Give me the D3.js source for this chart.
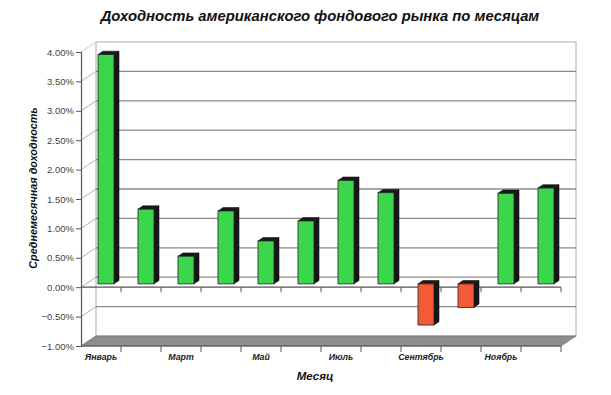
<!DOCTYPE html>
<html>
<head>
<meta charset="UTF-8">
<title>Доходность по месяцам</title>
<script src="https://d3js.org/d3.v7.min.js"></script>
<style>
  body { margin: 0; background: #fff; }
  text { font-family: "Liberation Sans", Arial, sans-serif; }
  .title { font-size: 14.8px; font-weight: bold; font-style: italic; fill: #111; }
  .axtitle { font-size: 11.5px; font-weight: bold; font-style: italic; fill: #111; }
  .ytitle { font-size: 10.8px; font-weight: bold; font-style: italic; fill: #111; }
  .month { font-size: 8.8px; font-weight: bold; font-style: italic; fill: #222; }
  .ytick { font-size: 9.5px; fill: #444; }
</style>
</head>
<body>
<div id="chart"></div>
<script>
// data
var months = ["Январь", "Февраль", "Март", "Апрель", "Май", "Июнь",
              "Июль", "Август", "Сентябрь", "Октябрь", "Ноябрь", "Декабрь"];
var returns = [3.90, 1.27, 0.47, 1.24, 0.73, 1.07, 1.76, 1.55, -0.70, -0.40, 1.54, 1.63];
var shownMonths = ["Январь", "Март", "Май", "Июль", "Сентябрь", "Ноябрь"];
var yTicks = [-1, -0.5, 0, 0.5, 1, 1.5, 2, 2.5, 3, 3.5, 4];

var W = 611, H = 395;
var DX = 15, DY = -10;   // depth of the 3d box

var svg = d3.select("#chart").append("svg")
    .attr("width", W).attr("height", H);

var x = d3.scaleBand().domain(months).range([81, 561]);
var y = d3.scaleLinear().domain([-1, 4]).range([346, 52]);
var fmt = d3.format(".2f");

var x0 = x.range()[0], x1 = x.range()[1];
var yTop = y(4), yBot = y(-1);

// back wall
svg.append("rect")
    .attr("x", x0 + DX).attr("y", yTop + DY)
    .attr("width", x1 - x0).attr("height", yBot - yTop)
    .attr("fill", "#fff").attr("stroke", "#c8c8c8").attr("stroke-width", 1.5);

// grid on back wall + left wall
var grid = svg.append("g");
grid.selectAll("line.back")
    .data(yTicks.filter(function(d) { return d > -1 && d < 4; }))
    .enter().append("line")
    .attr("x1", x0 + DX).attr("x2", x1 + DX)
    .attr("y1", function(d) { return y(d) + DY; })
    .attr("y2", function(d) { return y(d) + DY; })
    .attr("stroke", "#8a8a8a").attr("stroke-width", 1.3);
grid.selectAll("line.side")
    .data(yTicks)
    .enter().append("line")
    .attr("x1", x0).attr("x2", x0 + DX)
    .attr("y1", function(d) { return y(d); })
    .attr("y2", function(d) { return y(d) + DY; })
    .attr("stroke", function(d) { return d == 4 ? "#c8c8c8" : "#b0b0b0"; })
    .attr("stroke-width", 1);

// floor
svg.append("path")
    .attr("d", "M" + x0 + "," + yBot + "L" + x1 + "," + yBot +
               "L" + (x1 + DX) + "," + (yBot + DY) + "L" + (x0 + DX) + "," + (yBot + DY) + "Z")
    .attr("fill", "#8c8c8c").attr("stroke", "#777").attr("stroke-width", 0.8);

// zero line with ticks
svg.append("line")
    .attr("x1", x0).attr("x2", x1)
    .attr("y1", y(0)).attr("y2", y(0))
    .attr("stroke", "#555").attr("stroke-width", 1.2);
svg.append("g").selectAll("line")
    .data(months.slice(1).concat([null]))
    .enter().append("line")
    .attr("x1", function(d) { return d ? x(d) : x1; })
    .attr("x2", function(d) { return d ? x(d) : x1; })
    .attr("y1", y(0)).attr("y2", y(0) + 5)
    .attr("stroke", "#555").attr("stroke-width", 1);

// bars
var bw = x.bandwidth() * 0.4, bdx = DX / 3, bdy = DY / 3;
var bars = svg.append("g").selectAll("g")
    .data(months)
    .enter().append("g");

function frontL(d) { return x(d) + x.bandwidth() / 2 - bw / 2 + bdx; }
function topY(d, i) { return Math.min(y(returns[i]), y(0)) + bdy; }
function botY(d, i) { return Math.max(y(returns[i]), y(0)) + bdy; }

bars.append("path")   // side
    .attr("d", function(d, i) {
        var l = frontL(d) + bw, t = topY(d, i), b = botY(d, i);
        return "M" + l + "," + t + "L" + (l + bdx) + "," + (t + bdy) +
               "L" + (l + bdx) + "," + (b + bdy) + "L" + l + "," + b + "Z";
    })
    .attr("fill", "#161616").attr("stroke", "#111").attr("stroke-width", 0.6);
bars.append("path")   // top
    .attr("d", function(d, i) {
        var l = frontL(d), t = topY(d, i);
        return "M" + l + "," + t + "L" + (l + bw) + "," + t +
               "L" + (l + bw + bdx) + "," + (t + bdy) + "L" + (l + bdx) + "," + (t + bdy) + "Z";
    })
    .attr("fill", function(d, i) { return returns[i] < 0 ? "#2a1712" : "#1a1a1a"; })
    .attr("stroke", "#111").attr("stroke-width", 0.6);
bars.append("rect")   // front
    .attr("x", frontL)
    .attr("y", topY)
    .attr("width", bw)
    .attr("height", function(d, i) { return botY(d, i) - topY(d, i); })
    .attr("fill", function(d, i) { return returns[i] < 0 ? "#f25a38" : "#3bd64c"; })
    .attr("stroke", "#222").attr("stroke-width", 0.8);

// y axis
var yAxis = d3.axisLeft(y).tickValues(yTicks).tickSize(5).tickPadding(2)
    .tickFormat(function(d) { return fmt(d) + "%"; });
var gy = svg.append("g").attr("transform", "translate(" + x0 + ",0)").call(yAxis);
gy.select(".domain").attr("stroke", "#555").attr("stroke-width", 1.2);
gy.selectAll(".tick line").attr("stroke", "#555");
gy.selectAll(".tick text").attr("class", "ytick").attr("font-size", null).attr("font-family", null);

// bottom axis (front edge of floor)
var gx = svg.append("g").attr("transform", "translate(0," + yBot + ")");
gx.append("line").attr("x1", x0).attr("x2", x1).attr("stroke", "#555").attr("stroke-width", 1.2);
gx.selectAll("line.t")
    .data(months.slice(1).concat([null]))
    .enter().append("line")
    .attr("x1", function(d) { return d ? x(d) : x1; })
    .attr("x2", function(d) { return d ? x(d) : x1; })
    .attr("y1", 0).attr("y2", 6)
    .attr("stroke", "#555").attr("stroke-width", 1);
gx.selectAll("text")
    .data(shownMonths)
    .enter().append("text")
    .attr("class", "month")
    .attr("x", function(d) { return x(d) + x.bandwidth() / 2; })
    .attr("y", 14)
    .attr("text-anchor", "middle")
    .text(function(d) { return d; });

// titles
svg.append("text").attr("class", "title")
    .attr("x", 320).attr("y", 21).attr("text-anchor", "middle")
    .text("Доходность американского фондового рынка по месяцам");
svg.append("text").attr("class", "axtitle")
    .attr("x", 315).attr("y", 380).attr("text-anchor", "middle")
    .text("Месяц");
svg.append("text").attr("class", "ytitle")
    .attr("transform", "translate(37,188) rotate(-90)")
    .attr("text-anchor", "middle")
    .text("Среднемесячная доходность");
</script>
</body>
</html>
